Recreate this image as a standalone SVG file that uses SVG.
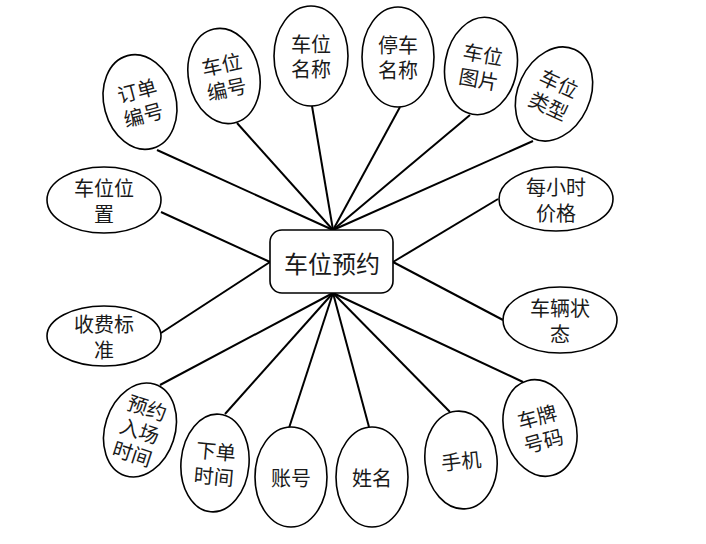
<svg xmlns="http://www.w3.org/2000/svg" width="706" height="544" viewBox="0 0 706 544">
<style>
.e{fill:#fff;stroke:#000;stroke-width:1.6}
.t{font-family:"Noto Sans CJK SC","Noto Sans CJK JP",sans-serif;font-size:20px;fill:#1a1a1a;text-anchor:middle;dominant-baseline:central}
.c{stroke:#000;stroke-width:2;fill:none}
</style>
<rect width="706" height="544" fill="#fff"/>
<g id="connectors">
<line class="c" x1="157" y1="150" x2="333" y2="230"/>
<line class="c" x1="237" y1="123" x2="333" y2="230"/>
<line class="c" x1="312" y1="106" x2="333" y2="230"/>
<line class="c" x1="400" y1="107" x2="333" y2="230"/>
<line class="c" x1="470" y1="115" x2="333" y2="230"/>
<line class="c" x1="533" y1="141" x2="333" y2="230"/>
<line class="c" x1="161" y1="212" x2="270" y2="262"/>
<line class="c" x1="161" y1="333" x2="270" y2="262"/>
<line class="c" x1="498" y1="199" x2="393" y2="262"/>
<line class="c" x1="503" y1="320" x2="393" y2="262"/>
<line class="c" x1="160" y1="385" x2="333" y2="293"/>
<line class="c" x1="225" y1="414" x2="333" y2="293"/>
<line class="c" x1="289" y1="428" x2="333" y2="293"/>
<line class="c" x1="369" y1="427" x2="333" y2="293"/>
<line class="c" x1="450" y1="412" x2="333" y2="293"/>
<line class="c" x1="523" y1="382" x2="333" y2="293"/>
</g>
<g id="center">
<rect x="270" y="230" width="123" height="63" rx="12" fill="#fff" stroke="#000" stroke-width="1.6"/>
<text x="332" y="262" class="t" style="font-size:24px">车位预约</text>
</g>
<g id="n1" transform="translate(140,102) rotate(-15)"><ellipse class="e" rx="36" ry="48"/><text class="t" y="-12.5">订单</text><text class="t" y="12.5">编号</text></g>
<g id="n2" transform="translate(224,76) rotate(-12)"><ellipse class="e" rx="35.5" ry="48"/><text class="t" y="-12.5">车位</text><text class="t" y="12.5">编号</text></g>
<g id="n3" transform="translate(311,56)"><ellipse class="e" rx="37" ry="50"/><text class="t" y="-12.5">车位</text><text class="t" y="12.5">名称</text></g>
<g id="n4" transform="translate(398,57)"><ellipse class="e" rx="36" ry="50"/><text class="t" y="-12.5">停车</text><text class="t" y="12.5">名称</text></g>
<g id="n5" transform="translate(481,66) rotate(10)"><ellipse class="e" rx="36" ry="49"/><text class="t" y="-12.5">车位</text><text class="t" y="12.5">图片</text></g>
<g id="n6" transform="translate(554,94) rotate(25)"><ellipse class="e" rx="36" ry="49"/><text class="t" y="-12.5">车位</text><text class="t" y="12.5">类型</text></g>
<g id="n7" transform="translate(104,200)"><ellipse class="e" rx="57" ry="33"/><text class="t" y="-13">车位位</text><text class="t" y="13">置</text></g>
<g id="n8" transform="translate(104,336)"><ellipse class="e" rx="57" ry="30"/><text class="t" y="-13">收费标</text><text class="t" y="13">准</text></g>
<g id="n9" transform="translate(556,199)"><ellipse class="e" rx="57" ry="32"/><text class="t" y="-13">每小时</text><text class="t" y="13">价格</text></g>
<g id="n10" transform="translate(560,320)"><ellipse class="e" rx="57" ry="33"/><text class="t" y="-13">车辆状</text><text class="t" y="13">态</text></g>
<g id="n11" transform="translate(140,430) rotate(18)"><ellipse class="e" rx="35" ry="48"/><text class="t" y="-24">预约</text><text class="t" y="0">入场</text><text class="t" y="24">时间</text></g>
<g id="n12" transform="translate(215,463) rotate(5)"><ellipse class="e" rx="34" ry="49"/><text class="t" y="-12.5">下单</text><text class="t" y="12.5">时间</text></g>
<g id="n13" transform="translate(291,477)"><ellipse class="e" rx="36" ry="50"/><text class="t" y="0">账号</text></g>
<g id="n14" transform="translate(372,477)"><ellipse class="e" rx="36" ry="50"/><text class="t" y="0">姓名</text></g>
<g id="n15" transform="translate(461,460) rotate(-6)"><ellipse class="e" rx="36" ry="49"/><text class="t" y="0">手机</text></g>
<g id="n16" transform="translate(540,428) rotate(-15)"><ellipse class="e" rx="36" ry="49"/><text class="t" y="-12.5">车牌</text><text class="t" y="12.5">号码</text></g>
</svg>
